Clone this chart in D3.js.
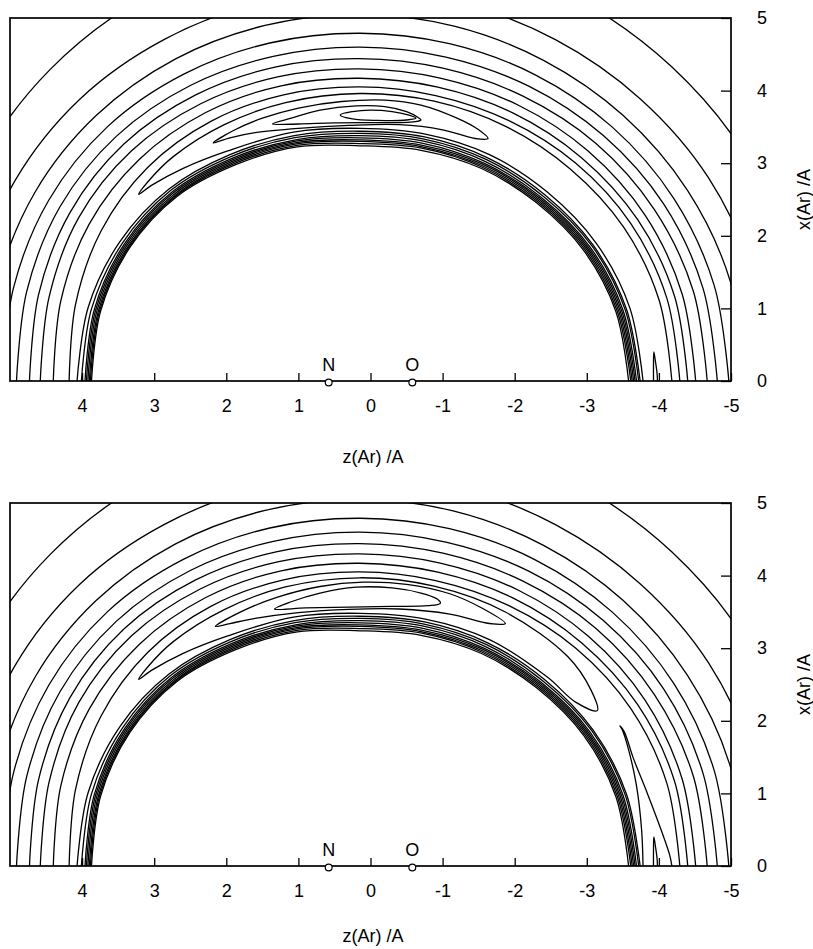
<!DOCTYPE html>
<html>
<head>
<meta charset="utf-8">
<script src="https://cdn.jsdelivr.net/npm/d3@7"></script>
<style>
  body { margin: 0; background: #fff; }
  svg text { font-family: "Liberation Sans", Arial, sans-serif; font-size: 18px; fill: #000; }
</style>
</head>
<body>
<svg width="813" height="949"></svg>
<script>
// axis ticks (z runs from +5 at the left edge to -5 at the right edge)
var zTicks = [4, 3, 2, 1, 0, -1, -2, -3, -4, -5];
var xTicks = [0, 1, 2, 3, 4, 5];
var atomNames = ["N", "O"];
var atomZ = [0.58, -0.58];

// contour radii (A) around the molecule centre, read at these angles (deg from +z)
var zCentre = 0.15;
var angles = [0, 15, 30, 45, 60, 75, 90, 105, 120, 135, 150, 165, 180];

// outer attractive contours, same in both panels
var ring1 = [6.05, 6.05, 6.06, 6.07, 6.07, 6.06, 6.06, 6.06, 6.07, 6.12, 6.19, 6.22, 6.22];
var ring2 = [5.50, 5.51, 5.52, 5.49, 5.43, 5.39, 5.38, 5.39, 5.43, 5.50, 5.59, 5.65, 5.68];
var ring3 = [5.17, 5.19, 5.20, 5.17, 5.12, 5.07, 5.05, 5.06, 5.10, 5.17, 5.25, 5.32, 5.35];
var ring4 = [4.96, 4.97, 4.98, 4.95, 4.88, 4.82, 4.79, 4.81, 4.87, 4.95, 5.03, 5.09, 5.12];
var ring5 = [4.76, 4.78, 4.80, 4.77, 4.70, 4.63, 4.60, 4.62, 4.69, 4.78, 4.87, 4.93, 4.96];
var ring6 = [4.58, 4.61, 4.64, 4.62, 4.55, 4.48, 4.44, 4.46, 4.53, 4.63, 4.72, 4.79, 4.82];
var ring7 = [4.43, 4.46, 4.50, 4.48, 4.41, 4.34, 4.30, 4.32, 4.39, 4.48, 4.57, 4.63, 4.66];
var ring8 = [4.25, 4.29, 4.33, 4.32, 4.27, 4.21, 4.17, 4.19, 4.26, 4.35, 4.45, 4.52, 4.55];
var ring9 = [4.03, 4.08, 4.14, 4.16, 4.13, 4.08, 4.05, 4.07, 4.14, 4.24, 4.34, 4.41, 4.44];

// repulsive wall, tightly packed
var wall1 = [3.92, 3.90, 3.84, 3.74, 3.60, 3.50, 3.44, 3.48, 3.55, 3.63, 3.74, 3.83, 3.89];
var wall2 = [3.86, 3.85, 3.80, 3.71, 3.57, 3.47, 3.41, 3.45, 3.52, 3.60, 3.72, 3.81, 3.87];
var wall3 = [3.81, 3.81, 3.77, 3.68, 3.54, 3.44, 3.38, 3.42, 3.49, 3.57, 3.69, 3.78, 3.84];
var wall4 = [3.79, 3.79, 3.75, 3.66, 3.52, 3.42, 3.35, 3.39, 3.46, 3.55, 3.67, 3.76, 3.82];
var wall5 = [3.77, 3.77, 3.73, 3.64, 3.50, 3.40, 3.32, 3.36, 3.44, 3.53, 3.65, 3.74, 3.80];
var wall6 = [3.75, 3.75, 3.71, 3.62, 3.48, 3.38, 3.30, 3.34, 3.42, 3.51, 3.63, 3.72, 3.78];
var wall7 = [3.735, 3.735, 3.695, 3.605, 3.46, 3.36, 3.27, 3.32, 3.40, 3.49, 3.61, 3.70, 3.76];
var wall8 = [3.72, 3.72, 3.68, 3.59, 3.44, 3.34, 3.24, 3.29, 3.38, 3.47, 3.59, 3.68, 3.73];

// upper panel: contour joining the T-shaped and O-end wells, [angle, r]
var topWellArc = [[180, 4.33], [165, 4.30], [150, 4.23], [135, 4.13], [120, 4.05], [105, 3.99],
  [90, 3.96], [75, 3.97], [62, 4.00], [50, 4.03], [43, 4.02], [40, 4.00], [43, 3.95], [50, 3.82],
  [60, 3.66], [75, 3.55], [90, 3.48], [105, 3.52], [120, 3.60], [135, 3.68], [150, 3.79],
  [165, 3.88], [180, 3.93]];
// upper panel: closed contours round the T-shaped minimum, [z, x]
var topBanana1 = [[0.42, 3.665], [0.25, 3.71], [0.0, 3.73], [-0.3, 3.71], [-0.52, 3.665], [-0.63, 3.62],
  [-0.5, 3.595], [-0.1, 3.59], [0.25, 3.61]];
var topBanana2 = [[1.36, 3.54], [1.1, 3.62], [0.7, 3.73], [0.2, 3.79], [-0.2, 3.78], [-0.5, 3.71],
  [-0.66, 3.63], [-0.70, 3.595], [-0.55, 3.565], [-0.1, 3.56], [0.5, 3.555], [1.0, 3.54]];
var topBanana3 = [[2.18, 3.28], [1.9, 3.45], [1.5, 3.62], [1.0, 3.76], [0.4, 3.85], [-0.2, 3.87],
  [-0.7, 3.80], [-1.2, 3.62], [-1.5, 3.46], [-1.63, 3.34], [-1.45, 3.34], [-1.0, 3.46],
  [-0.4, 3.53], [0.3, 3.52], [1.0, 3.48], [1.6, 3.42], [1.95, 3.35]];
// small O-end well on the axis, [z, x]
var topSpike = [[-3.925, 0], [-3.925, 0.2], [-3.93, 0.4], [-3.955, 0.25], [-3.975, 0.1], [-3.98, 0]];

// lower panel
var botBanana1 = [[1.33, 3.54], [1.1, 3.64], [0.7, 3.76], [0.2, 3.84], [-0.3, 3.83], [-0.7, 3.76],
  [-0.92, 3.68], [-0.97, 3.62], [-0.8, 3.585], [-0.3, 3.575], [0.3, 3.565], [0.9, 3.555]];
var botBanana2 = [[2.15, 3.30], [1.8, 3.50], [1.3, 3.70], [0.7, 3.85], [0.1, 3.91], [-0.5, 3.88],
  [-1.1, 3.75], [-1.55, 3.55], [-1.87, 3.34], [-1.65, 3.34], [-1.1, 3.47], [-0.4, 3.54],
  [0.3, 3.535], [1.0, 3.49], [1.6, 3.41], [1.95, 3.34]];
var botWellLoop = [[147, 3.93], [143, 4.02], [135, 4.08], [120, 4.04], [105, 3.99], [90, 3.97],
  [75, 3.98], [62, 4.00], [50, 4.03], [43, 4.02], [40, 4.00], [43, 3.95], [50, 3.82], [60, 3.66],
  [75, 3.55], [90, 3.48], [105, 3.52], [120, 3.60], [135, 3.68], [143, 3.75]];
var botTongue = [[-3.78, 0], [-3.76, 0.5], [-3.69, 1.1], [-3.58, 1.6], [-3.49, 1.88], [-3.46, 1.93],
  [-3.52, 1.85], [-3.64, 1.5], [-3.84, 1.0], [-4.03, 0.5], [-4.15, 0.15], [-4.18, 0]];
var botSpike = [[-3.925, 0], [-3.925, 0.2], [-3.93, 0.4], [-3.955, 0.25], [-3.975, 0.1], [-3.98, 0]];

var ringList = [ring1, ring2, ring3, ring4, ring5, ring6, ring7, ring8, ring9,
  wall1, wall2, wall3, wall4, wall5, wall6, wall7, wall8];

var panels = [
  {top: 18, bottom: 381, titleY: 463,
   polarOpen: [topWellArc], polarClosed: [],
   open: [topSpike], closed: [topBanana1, topBanana2, topBanana3]},
  {top: 503, bottom: 866, titleY: 942,
   polarOpen: [], polarClosed: [botWellLoop],
   open: [botSpike, botTongue], closed: [botBanana1, botBanana2]}
];

var svg = d3.select("svg");
var x = d3.scaleLinear().domain([5, -5]).range([10, 731]);

panels.forEach(drawPanel);

// [angle, r] pairs to [z, x]
function toZX(pairs) {
  return pairs.map(function(p) {
    var a = p[0] * Math.PI / 180;
    return [zCentre + p[1] * Math.cos(a), p[1] * Math.sin(a)];
  });
}

function drawPanel(p, i) {
  var y = d3.scaleLinear().domain([0, 5]).range([p.bottom, p.top]);

  svg.append("clipPath").attr("id", "clip" + i)
    .append("rect")
      .attr("x", x(5)).attr("y", y(5))
      .attr("width", x(-5) - x(5)).attr("height", y(0) - y(5));

  var g = svg.append("g")
      .attr("clip-path", "url(#clip" + i + ")")
      .attr("fill", "none")
      .attr("stroke", "#000")
      .attr("stroke-width", 1.3);

  var openLine = d3.line()
      .x(function(d) { return x(d[0]); })
      .y(function(d) { return y(d[1]); })
      .curve(d3.curveCatmullRom.alpha(0.5));
  var closedLine = d3.line()
      .x(function(d) { return x(d[0]); })
      .y(function(d) { return y(d[1]); })
      .curve(d3.curveCatmullRomClosed.alpha(0.5));

  ringList.forEach(function(r) {
    var pairs = angles.map(function(a, k) { return [a, r[k]]; });
    g.append("path").attr("d", openLine(toZX(pairs)));
  });
  p.polarOpen.forEach(function(c) { g.append("path").attr("d", openLine(toZX(c))); });
  p.polarClosed.forEach(function(c) { g.append("path").attr("d", closedLine(toZX(c))); });
  p.open.forEach(function(c) { g.append("path").attr("d", openLine(c)); });
  p.closed.forEach(function(c) { g.append("path").attr("d", closedLine(c)); });

  // frame
  svg.append("rect")
      .attr("x", x(5)).attr("y", y(5))
      .attr("width", x(-5) - x(5)).attr("height", y(0) - y(5))
      .attr("fill", "none").attr("stroke", "#000").attr("stroke-width", 1.7);

  // z axis, ticks pointing into the plot
  var zAxis = svg.append("g")
      .attr("transform", "translate(0," + y(0) + ")")
      .call(d3.axisBottom(x).tickValues(zTicks).tickSizeInner(-8).tickSizeOuter(0)
        .tickPadding(18).tickFormat(function(d) { return String(d); }));
  zAxis.select(".domain").remove();
  zAxis.selectAll("line").attr("stroke-width", 1.3);
  zAxis.selectAll("text").attr("font-size", 18).attr("font-family", null);

  // x axis on the right
  var xAxis = svg.append("g")
      .attr("transform", "translate(" + x(-5) + ",0)")
      .call(d3.axisRight(y).tickValues(xTicks).tickSizeInner(-10).tickSizeOuter(0)
        .tickPadding(26).tickFormat(function(d) { return String(d); }));
  xAxis.select(".domain").remove();
  xAxis.selectAll("line").attr("stroke-width", 1.3);
  xAxis.selectAll("text").attr("font-size", 18).attr("font-family", null);

  svg.append("text")
      .attr("x", 373).attr("y", p.titleY)
      .attr("text-anchor", "middle")
      .attr("font-size", 20)
      .text("z(Ar) /A");

  svg.append("text")
      .attr("transform", "translate(810," + y(2.5) + ") rotate(-90)")
      .attr("text-anchor", "middle")
      .attr("font-size", 20)
      .text("x(Ar) /A");

  // N and O nuclei on the axis
  atomZ.forEach(function(z, k) {
    svg.append("circle")
        .attr("cx", x(z)).attr("cy", y(0) + 1.5).attr("r", 3.4)
        .attr("fill", "#fff").attr("stroke", "#000").attr("stroke-width", 1.2);
    svg.append("text")
        .attr("x", x(z)).attr("y", y(0) - 10)
        .attr("text-anchor", "middle")
        .text(atomNames[k]);
  });
}
</script>
</body>
</html>
